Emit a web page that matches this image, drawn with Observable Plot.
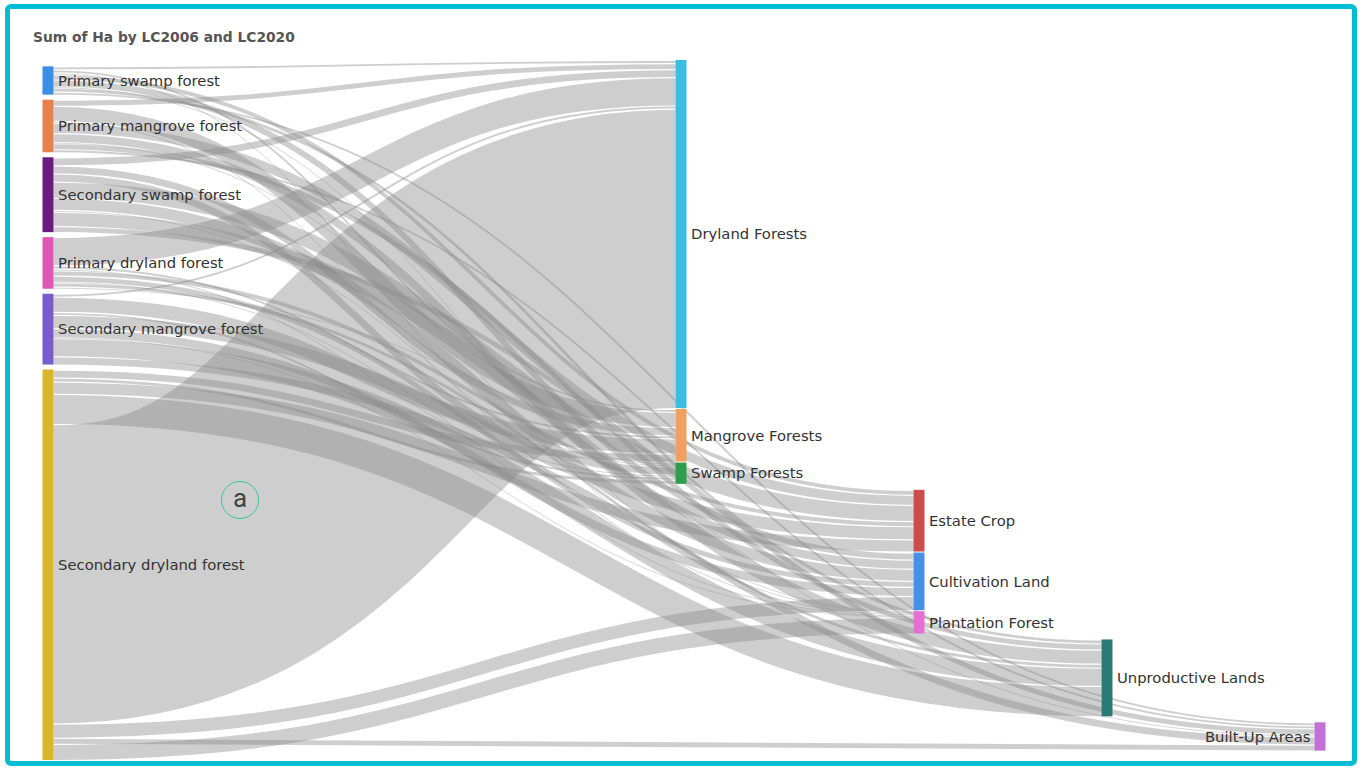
<!DOCTYPE html>
<html>
<head>
<meta charset="utf-8">
<script src="https://cdn.jsdelivr.net/npm/d3@7"></script>
<script src="https://cdn.jsdelivr.net/npm/@observablehq/plot@0.6"></script>
<style>
  html, body { margin: 0; padding: 0; background: #ffffff; }
  #wrap { position: relative; width: 1362px; height: 769px; overflow: hidden; background: #fff; }
  #chart { position: absolute; left: 0; top: 0; }
  #frame { position: absolute; left: 5px; top: 4px; width: 1352px; height: 762px; box-sizing: border-box;
           border: 5px solid #00bcd4; border-radius: 6px; pointer-events: none; }
  #title { position: absolute; left: 33px; top: 29px; font: bold 13.8px "DejaVu Sans", sans-serif; color: #555; white-space: nowrap; }
  #anno { position: absolute; left: 221px; top: 481px; width: 38px; height: 38px; box-sizing: border-box;
          border: 1.6px solid #33c4a4; border-radius: 50%; display: flex; align-items: center; justify-content: center;
          font: 26px Roboto, sans-serif; color: #444; line-height: 1; padding-bottom: 4px; }
</style>
</head>
<body>
<div id="wrap">
  <div id="chart"></div>
  <div id="title">Sum of Ha by LC2006 and LC2020</div>
  <div id="anno">a</div>
  <div id="frame"></div>
</div>
<script>
// ---------------- DATA (estimated, thousand ha) ----------------
const sources = [
  "Primary swamp forest",
  "Primary mangrove forest",
  "Secondary swamp forest",
  "Primary dryland forest",
  "Secondary mangrove forest",
  "Secondary dryland forest"
];
const targets = [
  "Dryland Forests",
  "Mangrove Forests",
  "Swamp Forests",
  "Estate Crop",
  "Cultivation Land",
  "Plantation Forest",
  "Unproductive Lands",
  "Built-Up Areas"
];
// flows from each LC2006 class, in the order of `targets`
const haPrimarySwamp      = [3, 3, 2, 5, 7, 1, 4, 3];
const haPrimaryMangrove   = [6, 15, 2, 10, 9, 1, 6, 3];
const haSecondarySwamp    = [8, 8, 8, 16, 12, 2, 14, 6];
const haPrimaryDryland    = [28, 3, 2, 5, 6, 1, 4, 2];
const haSecondaryMangrove = [3, 15, 3, 13, 9, 1, 18, 8];
const haSecondaryDryland  = [296, 8, 4, 12, 14, 16, 30, 6];

// ---------------- STYLE / LAYOUT ----------------
const sourceColors = ["#3a8ee6", "#e8804a", "#6a1b7e", "#e056b4", "#7a5bcc", "#d9b62a"];
const targetColors = ["#3cbde3", "#f0a060", "#2e9e4a", "#cc4b4b", "#4a8fe6", "#e66fd6", "#2a7b78", "#c46fd6"];
const targetColumn = [1, 1, 1, 2, 2, 2, 3, 4];
// stacking order of the links leaving "Secondary dryland forest"
const secondaryDrylandOrder = ["Mangrove Forests", "Swamp Forests", "Estate Crop", "Unproductive Lands",
                               "Dryland Forests", "Cultivation Land", "Built-Up Areas", "Plantation Forest"];

const matrix = [haPrimarySwamp, haPrimaryMangrove, haSecondarySwamp, haPrimaryDryland, haSecondaryMangrove, haSecondaryDryland];

const W = 1362, H = 769;
// horizontal placement of the node columns (left edges)
const columnX = d3.scaleLinear().domain([0, 1, 2, 3, 4]).range([42, 675, 913, 1101, 1314]);
const yDomain = [0, 692];
const yRange = [60, 760];
const k = (yRange[1] - yRange[0]) / (yDomain[1] - yDomain[0]); // px per unit
const nodeWidth = 11;
const sourceGap = 5 / k, innerGap = 1 / k, columnGap = 6 / k;

const total = d3.sum(matrix.flat());

const nodes = [];
// source nodes: bottom aligned
let y = yDomain[1] - (total + sourceGap * (sources.length - 1));
const srcNodes = sources.map((name, i) => {
  const v = d3.sum(matrix[i]);
  const n = {name, col: 0, y0: y, y1: y + v, value: v, color: sourceColors[i]};
  y += v + sourceGap;
  nodes.push(n);
  return n;
});
// target nodes: top aligned, cascading in columns
y = yDomain[0];
const tgtNodes = targets.map((name, j) => {
  const v = d3.sum(matrix, row => row[j]);
  if (j > 0) y += targetColumn[j] === targetColumn[j - 1] ? innerGap : columnGap;
  const n = {name, col: targetColumn[j], y0: y, y1: y + v, value: v, color: targetColors[j]};
  y += v;
  nodes.push(n);
  return n;
});
nodes.forEach(n => { n.mid = (n.y0 + n.y1) / 2; n.x = columnX(n.col); });

// links
const links = [];
matrix.forEach((row, i) => {
  const order = i === 5 ? secondaryDrylandOrder.map(t => targets.indexOf(t)) : targets.map((_, j) => j);
  let sy = srcNodes[i].y0;
  order.forEach(j => {
    const value = row[j];
    links.push({s: i, t: j, value, sy: sy + value / 2});
    sy += value;
  });
});
const tOffset = tgtNodes.map(n => n.y0);
d3.sort(links, l => l.s).forEach(l => {
  l.ty = tOffset[l.t] + l.value / 2;
  tOffset[l.t] += l.value;
  l.sx = columnX(0) + nodeWidth;
  l.tx = columnX(targetColumn[l.t]);
});

const font = "DejaVu Sans, sans-serif";
const chart = Plot.plot({
  width: W,
  height: H,
  margin: 0,
  x: {domain: [0, W], range: [0, W], axis: null},
  y: {domain: yDomain, range: yRange, axis: null},
  color: {type: "identity"},
  style: {background: "transparent", fontFamily: font},
  marks: [
    Plot.link(links, {
      x1: "sx", y1: "sy", x2: "tx", y2: "ty",
      curve: "bump-x",
      stroke: "#8a8a8a",
      strokeOpacity: 0.42,
      strokeWidth: d => Math.max(0.8, d.value * k - 1.2)
    }),
    Plot.ruleX(nodes, {x: "x", y1: "y0", y2: "y1", stroke: "color", strokeWidth: nodeWidth, dx: nodeWidth / 2}),
    Plot.text(nodes.filter(n => n.col < 4), {
      x: "x", y: "mid", text: "name", textAnchor: "start",
      dx: nodeWidth + 4.5, fontSize: 14.8, fill: "#333", fontFamily: font
    }),
    Plot.text(nodes.filter(n => n.col === 4), {
      x: "x", y: "mid", text: "name", textAnchor: "end",
      dx: -4, fontSize: 14.8, fill: "#333", fontFamily: font
    })
  ]
});
document.getElementById("chart").appendChild(chart);
</script>
</body>
</html>
